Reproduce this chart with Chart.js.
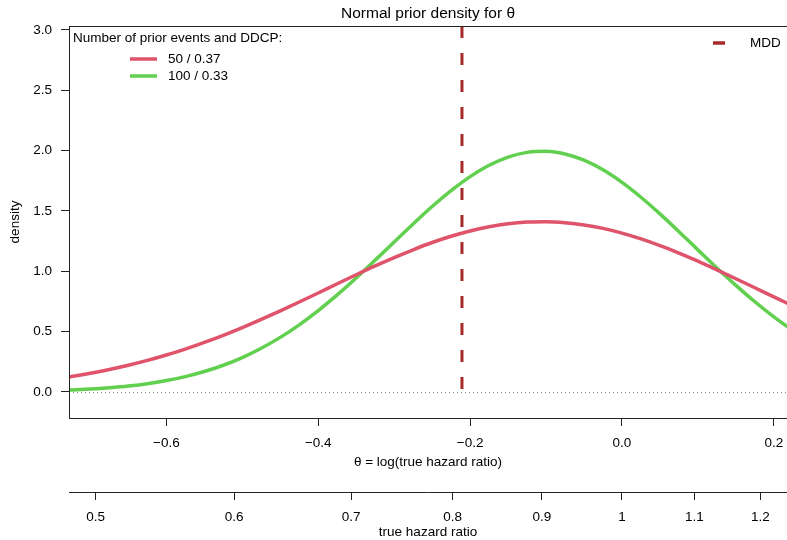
<!DOCTYPE html>
<html>
<head>
<meta charset="utf-8">
<script src="https://cdn.jsdelivr.net/npm/chart.js@4"></script>
<style>
  body { margin: 0; background: #fff; }
  #wrap { width: 787px; height: 540px; }
</style>
</head>
<body>
<div id="wrap"><canvas id="chart" width="787" height="540"></canvas></div>
<script>
// --- DATI ---
const theta = [-0.75, -0.725, -0.70, -0.675, -0.65, -0.625, -0.60, -0.575, -0.55, -0.525,
               -0.50, -0.475, -0.45, -0.425, -0.40, -0.375, -0.35, -0.325, -0.30, -0.275,
               -0.25, -0.225, -0.20, -0.175, -0.15, -0.125, -0.10, -0.075, -0.05, -0.025,
               0.0, 0.025, 0.05, 0.075, 0.10, 0.125, 0.15, 0.175, 0.20, 0.225, 0.25];
const dens50 = [0.105, 0.128, 0.155, 0.186, 0.221, 0.261, 0.306, 0.355, 0.410, 0.469,
                0.533, 0.601, 0.672, 0.745, 0.820, 0.896, 0.971, 1.044, 1.113, 1.178,
                1.238, 1.290, 1.334, 1.368, 1.393, 1.407, 1.410, 1.402, 1.384, 1.355,
                1.316, 1.268, 1.213, 1.151, 1.084, 1.012, 0.938, 0.863, 0.787, 0.713, 0.641];
const dens100 = [0.011, 0.016, 0.024, 0.035, 0.049, 0.068, 0.094, 0.127, 0.169, 0.221,
                 0.285, 0.362, 0.452, 0.556, 0.674, 0.804, 0.944, 1.092, 1.243, 1.392,
                 1.536, 1.668, 1.784, 1.878, 1.946, 1.985, 1.994, 1.972, 1.920, 1.840,
                 1.736, 1.613, 1.475, 1.328, 1.177, 1.027, 0.883, 0.747, 0.622, 0.510, 0.411];
const seriesLabels = ["50 / 0.37", "100 / 0.33"];
const mddHR = 0.81;
const thetaTicks = [-0.6, -0.4, -0.2, 0.0, 0.2];
const hrTicks = [0.5, 0.6, 0.7, 0.8, 0.9, 1, 1.1, 1.2];
const densTicks = [0, 0.5, 1.0, 1.5, 2.0, 2.5, 3.0];

// --- LIMITI ASSI ---
const X_MIN = -0.7282, X_MAX = 0.2173;
const Y_MIN = -0.216, Y_MAX = 3.032;

const FONT = "'Liberation Sans', Arial, sans-serif";
const FS = 13.5;
const RED = '#DF536B', GREEN = '#61D04F', MDD_COL = '#A52A2A';

const toXY = (xs, ys) => xs.map((x, i) => ({ x: x, y: ys[i] }));
const fmtNum = v => (v < 0 ? '\u2212' : '') + Math.abs(v).toFixed(1);
// niente padding laterale: l'area del grafico arriva fino al bordo destro
const noSidePad = h => s => { s.height = h; s.paddingLeft = 0; s.paddingRight = 0; };

// box, linea dello zero, legende
const extras = {
    id: 'extras',
    beforeDatasetsDraw(chart) {
        const { ctx, chartArea: a, scales: { y } } = chart;
        const y0 = Math.round(y.getPixelForValue(0)) + 0.5;
        ctx.save();
        ctx.strokeStyle = '#888';
        ctx.lineWidth = 1;
        ctx.setLineDash([1, 3]);
        ctx.beginPath();
        ctx.moveTo(a.left, y0);
        ctx.lineTo(a.right, y0);
        ctx.stroke();
        ctx.restore();
    },
    afterDatasetsDraw(chart) {
        const { ctx, chartArea: a } = chart;
        ctx.save();
        ctx.strokeStyle = '#222';
        ctx.lineWidth = 1;
        ctx.strokeRect(Math.round(a.left) + 0.5, Math.round(a.top) + 0.5,
                       a.right - a.left + 2, Math.round(a.bottom) - Math.round(a.top));

        ctx.font = FS + 'px ' + FONT;
        ctx.fillStyle = '#000';
        ctx.textBaseline = 'middle';
        ctx.fillText('Number of prior events and DDCP:', 73, 38);

        const ds = chart.data.datasets;
        [0, 1].forEach(i => {
            const yy = 59 + i * 17;
            ctx.strokeStyle = ds[i].borderColor;
            ctx.lineWidth = 3.5;
            ctx.beginPath();
            ctx.moveTo(130, yy);
            ctx.lineTo(157, yy);
            ctx.stroke();
            ctx.fillText(ds[i].label, 168, yy);
        });

        ctx.strokeStyle = MDD_COL;
        ctx.lineWidth = 3.5;
        ctx.setLineDash([12, 15]);
        ctx.beginPath();
        ctx.moveTo(713, 43);
        ctx.lineTo(739, 43);
        ctx.stroke();
        ctx.setLineDash([]);
        ctx.fillText('MDD', 750, 43);
        ctx.restore();
    }
};

const ctx = document.getElementById('chart').getContext('2d');
new Chart(ctx, {
    type: 'line',
    data: {
        datasets: [
            { label: seriesLabels[0], data: toXY(theta, dens50), borderColor: RED, borderWidth: 3.5,
              pointRadius: 0, cubicInterpolationMode: 'monotone', clip: 0 },
            { label: seriesLabels[1], data: toXY(theta, dens100), borderColor: GREEN, borderWidth: 3.5,
              pointRadius: 0, cubicInterpolationMode: 'monotone', clip: 0 },
            { label: 'MDD', data: [{ x: Math.log(mddHR), y: Y_MAX }, { x: Math.log(mddHR), y: 0 }],
              borderColor: MDD_COL, borderWidth: 3, borderDash: [12, 15], pointRadius: 0, clip: 0 }
        ]
    },
    options: {
        responsive: false,
        animation: false,
        layout: { padding: 0 },
        plugins: {
            legend: { display: false },
            tooltip: { enabled: false },
            title: {
                display: true, fullSize: false,
                text: 'Normal prior density for \u03b8',
                color: '#000',
                font: { family: FONT, size: 15.5, weight: 'normal' },
                padding: { top: 4, bottom: 3.4 }
            }
        },
        scales: {
            x: {
                type: 'linear', position: 'bottom', min: X_MIN, max: X_MAX,
                afterBuildTicks: s => { s.ticks = thetaTicks.map(v => ({ value: v })); },
                afterFit: noSidePad(74),
                border: { display: false },
                grid: { drawOnChartArea: false, tickLength: 8, tickColor: '#222' },
                ticks: { autoSkip: false, maxRotation: 0, padding: 9.5, color: '#000',
                         font: { family: FONT, size: FS }, callback: v => fmtNum(v) },
                title: { display: true, text: '\u03b8 = log(true hazard ratio)', color: '#000',
                         font: { family: FONT, size: FS }, padding: { top: 0, bottom: 21.5 } }
            },
            x2: {
                type: 'linear', position: 'bottom', min: X_MIN, max: X_MAX,
                afterBuildTicks: s => { s.ticks = hrTicks.map(h => ({ value: Math.log(h) })); },
                afterFit: noSidePad(48),
                border: { display: true, color: '#222', width: 1 },
                grid: { drawOnChartArea: false, tickLength: 8, tickColor: '#222' },
                ticks: { autoSkip: false, maxRotation: 0, padding: 9.5, color: '#000',
                         font: { family: FONT, size: FS }, callback: (v, i) => String(hrTicks[i]) },
                title: { display: true, text: 'true hazard ratio', color: '#000',
                         font: { family: FONT, size: FS }, padding: { top: 0, bottom: 0 } }
            },
            y: {
                type: 'linear', min: Y_MIN, max: Y_MAX,
                afterBuildTicks: s => { s.ticks = densTicks.map(v => ({ value: v })); },
                afterFit: s => { s.width = 69; s.paddingTop = 0; s.paddingBottom = 0; },
                border: { display: false },
                grid: { drawOnChartArea: false, tickLength: 8, tickColor: '#222' },
                ticks: { autoSkip: false, padding: 9, color: '#000',
                         font: { family: FONT, size: FS }, callback: v => fmtNum(v) },
                title: { display: true, text: 'density', color: '#000',
                         font: { family: FONT, size: FS }, padding: { top: 7.5, bottom: 0 } }
            }
        }
    },
    plugins: [extras]
});
</script>
</body>
</html>
